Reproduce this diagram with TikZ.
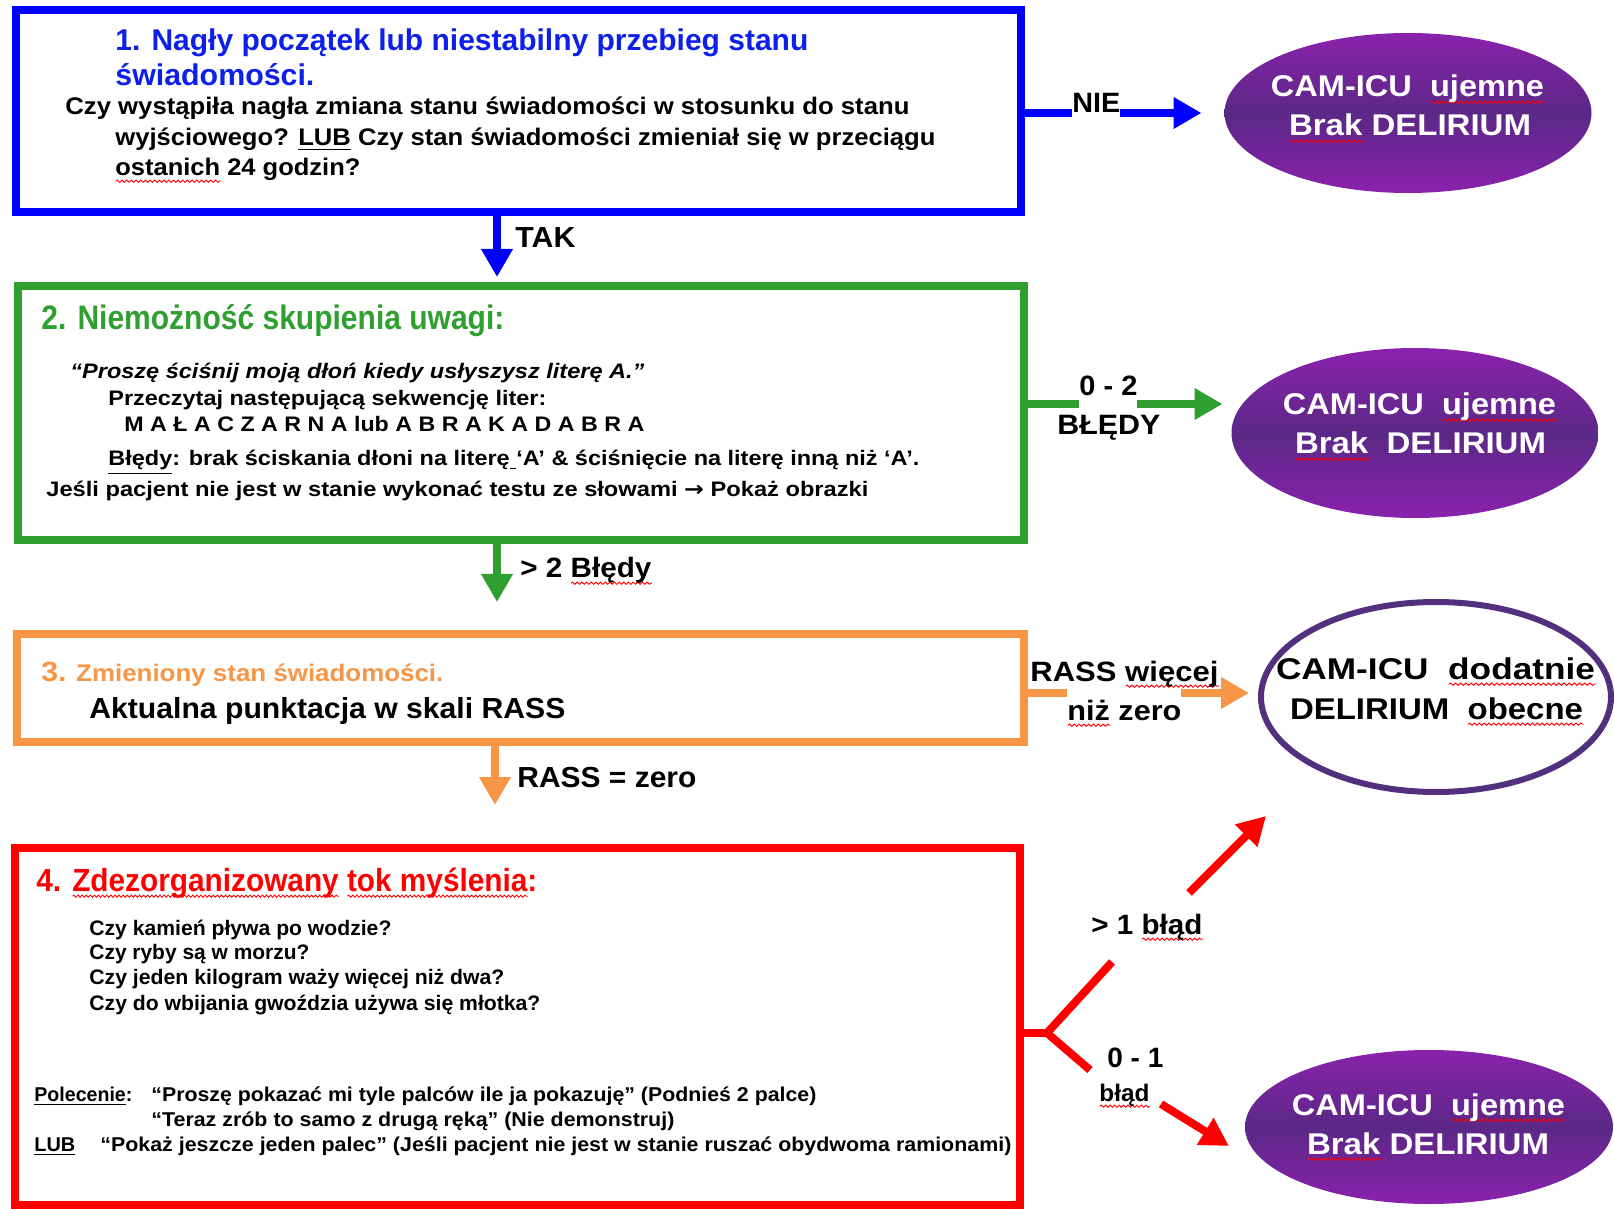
\documentclass[tikz,border=0pt]{standalone}
\usepackage{fontspec}
\setmainfont{Liberation Sans}
\newfontfamily\symfont{DejaVu Sans}
\usepackage{graphicx}
\usetikzlibrary{arrows.meta,shapes.geometric,fit,decorations.pathmorphing}

\definecolor{cBlue}{HTML}{0000FF}
\definecolor{cTitleBlue}{HTML}{0D1FEA}
\definecolor{cGreen}{HTML}{2FA02F}
\definecolor{cOrange}{HTML}{F79646}
\definecolor{cRed}{HTML}{FF0000}
\definecolor{cPurpA}{HTML}{8A22AC}
\definecolor{cPurpB}{HTML}{5B2886}
\definecolor{cPurpLine}{HTML}{53307E}

% bold text at a given size (pt)
\newcommand\fb[1]{\fontsize{#1}{#1}\selectfont\bfseries}
% set a line to a fixed width, keeping its height
\newcommand\fw[2]{\resizebox{#1}{\height}{#2}}
% red wavy underline under a word
\newdimen\splw
\newsavebox\splbox
\newcommand\spl[1]{\sbox\splbox{#1}\splw=\wd\splbox\rlap{\raisebox{-2.6pt}{\tikz[x=1pt,y=1pt,baseline=0pt]\draw[red,line width=0.45pt,decorate,decoration={snake,amplitude=0.55pt,segment length=2.2pt}] (0,0) -- (\splw,0);}}\usebox\splbox}

\tikzset{
  box/.style={draw=#1, line width=4pt, inner sep=0pt, outer sep=0pt},
  txt/.style={anchor=base west, inner sep=0pt},
  ctxt/.style={anchor=base, inner sep=0pt},
  conn/.style={draw=#1, line width=4pt, -{Triangle[length=14pt,width=15pt]}},
  seg/.style={draw=#1, line width=4pt, line join=round},
  pill/.style={ellipse, draw=none, inner sep=0pt, outer sep=0pt,
    top color=cPurpA, bottom color=cPurpA, middle color=cPurpB},
}

\begin{document}
\begin{tikzpicture}[x=0.5pt, y=-0.5pt]
\fill[white] (0,0) rectangle (1614,1209);
\useasboundingbox (0,0) rectangle (1614,1209);

% ---- boxes ----
\node[box=cBlue,   fit={(16,10) (1021,212)}]  (b1) {};
\node[box=cGreen,  fit={(18,286) (1024,540)}] (b2) {};
\node[box=cOrange, fit={(17,634) (1024,742)}] (b3) {};
\node[box=cRed,    fit={(15,848) (1020,1205)}] (b4) {};

% ---- outcome ellipses ----
\node[pill, minimum width=183.5pt, minimum height=80pt] (e1) at (1408,113) {};
\node[pill, minimum width=183.5pt, minimum height=85pt] (e2) at (1415,433) {};
\node[ellipse, draw=cPurpLine, line width=3pt, fill=white, inner sep=0pt, outer sep=0pt,
      minimum width=175pt, minimum height=95pt] (e3) at (1436,697) {};
\node[pill, minimum width=184pt, minimum height=77pt] (e4) at (1429,1127) {};

% ---- box 1 ----
\node[txt, text=cTitleBlue, font=\fb{15}] (t1a) at (115,51) {\fw{346.5pt}{1. Nagły początek lub niestabilny przebieg stanu}};
\node[txt, text=cTitleBlue, font=\fb{15}] (t1b) at (115,86) {\fw{99.5pt}{świadomości.}};
\node[txt, font=\fb{12}] (q1a) at (65,115) {\fw{422pt}{Czy wystąpiła nagła zmiana stanu świadomości w stosunku do stanu}};
\node[txt, font=\fb{12}] (q1b) at (115,146) {\fw{410pt}{wyjściowego? \underline{LUB} Czy stan świadomości zmieniał się w przeciągu}};
\node[txt, font=\fb{12}] (q1c) at (115,176) {\fw{122.5pt}{\spl{ostanich} 24 godzin?}};

% ---- box 2 ----
\node[txt, text=cGreen, font=\fb{17}] (t2) at (41,330) {\fw{231.5pt}{2. Niemożność skupienia uwagi:}};
\node[txt, font=\fb{10.5}\itshape] (q2a) at (70,379) {\fw{287pt}{“Proszę ściśnij moją dłoń kiedy usłyszysz literę A.”}};
\node[txt, font=\fb{10.5}] (q2b) at (108,405.5) {\fw{219pt}{Przeczytaj następującą sekwencję liter:}};
\node[txt, font=\fb{10.5}] (q2c) at (124,432) {\fw{260pt}{M A Ł A C Z A R N A lub A B R A K A D A B R A}};
\node[txt, font=\fb{10.5}] (q2d) at (108,466) {\fw{405.5pt}{\underline{Błędy}: brak ściskania dłoni na literę\underline{\ }‘A’ \& ściśnięcie na literę inną niż ‘A’.}};
\node[txt, font=\fb{10.5}] (q2e) at (46,497) {\fw{411pt}{Jeśli pacjent nie jest w stanie wykonać testu ze słowami {\symfont\bfseries →} Pokaż obrazki}};

% ---- box 3 ----
\node[txt, text=cOrange, font=\fb{12}] (t3) at (41,681) {\fw{201pt}{{\fontsize{14}{14}\selectfont 3.} Zmieniony stan świadomości.}};
\node[txt, font=\fb{14.5}] (q3) at (89,718) {\fw{238pt}{Aktualna punktacja w skali RASS}};

% ---- box 4 ----
\node[txt, text=cRed, font=\fb{16}] (t4) at (36,891) {\fw{250.5pt}{4. \spl{Zdezorganizowany} \spl{tok myślenia}:}};
\node[txt, font=\fb{10.5}] (q4a) at (89,935) {\fw{151pt}{Czy kamień pływa po wodzie?}};
\node[txt, font=\fb{10.5}] (q4b) at (89,959) {\fw{110pt}{Czy ryby są w morzu?}};
\node[txt, font=\fb{10.5}] (q4c) at (89,984) {\fw{207.5pt}{Czy jeden kilogram waży więcej niż dwa?}};
\node[txt, font=\fb{10.5}] (q4d) at (89,1010) {\fw{225.5pt}{Czy do wbijania gwoździa używa się młotka?}};
\node[txt, font=\fb{10}] (p4a) at (34,1101) {\fw{49pt}{\underline{Polecenie}:}};
\node[txt, font=\fb{10}] (p4b) at (151,1101) {\fw{332.5pt}{“Proszę pokazać mi tyle palców ile ja pokazuję” (Podnieś 2 palce)}};
\node[txt, font=\fb{10}] (p4c) at (151,1126) {\fw{261.5pt}{“Teraz zrób to samo z drugą ręką” (Nie demonstruj)}};
\node[txt, font=\fb{10}] (p4d) at (34,1151) {\fw{20.5pt}{\underline{LUB}}};
\node[txt, font=\fb{10}] (p4e) at (100,1151) {\fw{455.5pt}{“Pokaż jeszcze jeden palec” (Jeśli pacjent nie jest w stanie ruszać obydwoma ramionami)}};

% ---- ellipse texts ----
\node[ctxt, text=white, font=\fb{15}] (e1a) at (1407.5,97)  {\fw{136.5pt}{CAM-ICU\ \ \spl{ujemne}}};
\node[ctxt, text=white, font=\fb{15}] (e1b) at (1410,136)   {\fw{121pt}{\spl{Brak} DELIRIUM}};
\node[ctxt, text=white, font=\fb{15}] (e2a) at (1419.5,415) {\fw{136.5pt}{CAM-ICU\ \ \spl{ujemne}}};
\node[ctxt, text=white, font=\fb{15}] (e2b) at (1420.5,454) {\fw{125.5pt}{\spl{Brak}\ \ DELIRIUM}};
\node[ctxt, font=\fb{15}] (e3a) at (1435.5,679) {\fw{159.5pt}{CAM-ICU\ \ \spl{dodatnie}}};
\node[ctxt, font=\fb{15}] (e3b) at (1436.5,719) {\fw{146.5pt}{DELIRIUM\ \ \spl{obecne}}};
\node[ctxt, text=white, font=\fb{15}] (e4a) at (1428.5,1115) {\fw{136.5pt}{CAM-ICU\ \ \spl{ujemne}}};
\node[ctxt, text=white, font=\fb{15}] (e4b) at (1428,1154)   {\fw{121pt}{\spl{Brak} DELIRIUM}};

% ---- connectors ----
\coordinate (ax) at (497,0);
\coordinate (ax3) at (495,0);
\draw[conn=cBlue,   shorten >=4.5pt]  (b1.south -| ax)  -- (b2.north -| ax);
\draw[conn=cGreen,  shorten >=16pt]   (b2.south -| ax)  -- (b3.north -| ax);
\draw[conn=cOrange, shorten >=21.5pt] (b3.south -| ax3) -- (b4.north -| ax3);

\coordinate (nb) at ([yshift=-1pt]b1.east);
\coordinate (gb) at ([yshift=4.5pt]b2.east);
\coordinate (ob) at ([yshift=-2.5pt]b3.east);
\draw[conn=cBlue,   shorten >=11.5pt] (nb) -- (nb -| e1.west);
\draw[conn=cGreen,  shorten >=4.5pt]  (gb) -- (gb -| e2.west);
\draw[conn=cOrange, shorten >=6pt]    (ob) -- (ob -| e3.west);

% red fork
\coordinate (fk) at (1047,1033);
\coordinate (u1) at (1112,962);
\coordinate (u2) at (1189,893);
\coordinate (ut) at (1266,816);
\coordinate (d1) at (1090,1070);
\coordinate (d2) at (1161,1104);
\coordinate (dt) at (1229,1146);
\draw[seg=cRed] (b4.east |- fk) -- (fk);
\draw[seg=cRed] (u1) -- (fk) -- (d1);
\draw[conn=cRed] (u2) -- (ut);
\draw[conn=cRed] (d2) -- (dt);

% ---- connector labels ----
\node[txt, font=\fb{14.5}] (lTAK) at (515,248) {\fw{30pt}{TAK}};
\node[txt, font=\fb{14}, fill=white, text depth=4pt] (lNIE) at (1072,113) {\fw{24pt}{NIE}};
\node[txt, font=\fb{14}, fill=white, text depth=7pt] (l02) at (1079,396) {\fw{29pt}{0 - 2}};
\node[txt, font=\fb{14}] (l02b) at (1057,435) {\fw{51.5pt}{BŁĘDY}};
\node[txt, font=\fb{14}] (lgt2) at (520,578) {\fw{65.5pt}{> 2 \spl{Błędy}}};
\node[txt, font=\fb{14}, fill=white, text height=16pt] (lniz) at (1067,720) {\fw{57pt}{\spl{niż} zero}};
\node[txt, font=\fb{14}] (lrass) at (1030,681) {\fw{94pt}{RASS \spl{więcej}}};
\node[txt, font=\fb{14.5}] (lrz) at (517,787) {\fw{89.5pt}{RASS = zero}};
\node[txt, font=\fb{14}] (lgt1) at (1091,934) {\fw{55.5pt}{> 1 \spl{błąd}}};
\node[txt, font=\fb{14}] (l01) at (1107,1067) {\fw{28pt}{0 - 1}};
\node[txt, font=\fb{12}] (l01b) at (1099,1101) {\fw{25pt}{\spl{błąd}}};
\end{tikzpicture}
\end{document}
